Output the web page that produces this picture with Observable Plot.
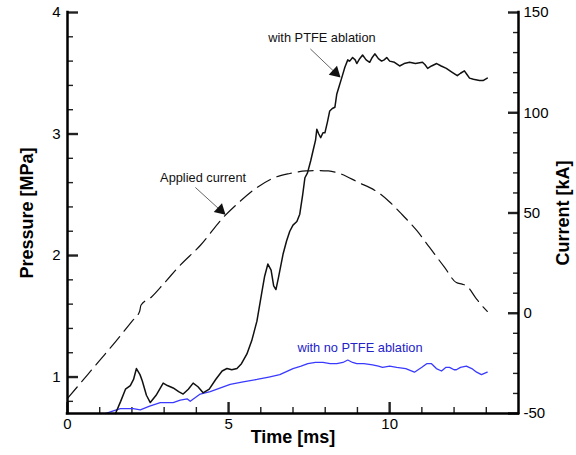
<!DOCTYPE html>
<html><head><meta charset="utf-8">
<script src="https://cdn.jsdelivr.net/npm/d3@7"></script>
<script src="https://cdn.jsdelivr.net/npm/@observablehq/plot@0.6"></script>
<style>body{margin:0;background:#fff}#chart{width:576px;height:455px}</style>
</head><body><div id="chart"></div>
<script>
// Pressure with PTFE ablation (ms, MPa)
const ptfeTime = [1.49,1.65,1.80,1.95,2.05,2.14,2.25,2.32,2.45,2.57,2.75,2.97,3.10,3.28,3.45,3.59,3.75,3.90,4.05,4.21,4.40,4.60,4.80,4.95,5.10,5.26,5.40,5.57,5.72,5.88,6.04,6.12,6.22,6.32,6.40,6.47,6.55,6.69,6.80,6.90,7.00,7.12,7.21,7.30,7.37,7.45,7.55,7.62,7.70,7.74,7.80,7.86,7.93,7.99,8.07,8.14,8.22,8.30,8.36,8.44,8.51,8.61,8.70,8.76,8.85,8.93,8.98,9.07,9.16,9.27,9.38,9.46,9.54,9.65,9.75,9.83,9.91,10.00,10.15,10.31,10.45,10.62,10.80,11.02,11.10,11.18,11.30,11.46,11.60,11.76,11.93,12.10,12.20,12.32,12.40,12.48,12.60,12.79,12.90,13.03];
const ptfePressure = [0.70,0.80,0.90,0.93,0.98,1.07,1.02,0.97,0.85,0.79,0.85,0.95,0.93,0.91,0.88,0.86,0.90,0.95,0.92,0.87,0.90,0.98,1.05,1.07,1.06,1.07,1.11,1.19,1.30,1.46,1.71,1.83,1.93,1.88,1.75,1.72,1.82,2.01,2.12,2.20,2.25,2.28,2.34,2.50,2.64,2.68,2.78,2.86,2.95,3.04,3.00,2.97,3.01,3.01,3.10,3.19,3.21,3.22,3.33,3.40,3.46,3.55,3.61,3.60,3.63,3.61,3.58,3.62,3.65,3.61,3.59,3.63,3.66,3.62,3.60,3.61,3.63,3.60,3.59,3.56,3.58,3.59,3.58,3.59,3.57,3.54,3.56,3.58,3.56,3.54,3.51,3.48,3.50,3.52,3.49,3.46,3.45,3.44,3.44,3.46];
// Pressure with no PTFE ablation (ms, MPa)
const noPtfeTime = [1.18,1.40,1.64,2.04,2.26,2.55,2.88,3.28,3.50,3.72,3.81,4.12,4.43,4.75,5.05,5.45,5.88,6.25,6.59,7.00,7.25,7.46,7.70,7.93,8.15,8.36,8.55,8.70,8.85,8.98,9.20,9.47,9.65,9.78,10.00,10.22,10.50,10.77,11.00,11.15,11.30,11.45,11.61,11.75,11.86,12.00,12.07,12.20,12.38,12.55,12.70,12.85,13.03];
const noPtfePressure = [0.70,0.72,0.74,0.74,0.73,0.76,0.79,0.79,0.81,0.82,0.80,0.86,0.88,0.91,0.94,0.96,0.98,1.00,1.02,1.07,1.09,1.11,1.12,1.12,1.11,1.11,1.12,1.14,1.12,1.11,1.11,1.10,1.09,1.08,1.09,1.08,1.07,1.04,1.08,1.11,1.11,1.07,1.05,1.08,1.08,1.06,1.06,1.08,1.09,1.07,1.04,1.02,1.04];
// Applied current (ms, kA)
const currentTime = [0,0.5,1.0,1.5,2.0,2.24,2.28,2.6,3.0,3.5,4.12,4.83,5.3,5.88,6.4,6.9,7.4,7.74,8.1,8.45,9.0,9.69,10.0,10.4,10.84,11.24,11.7,12.07,12.25,12.38,12.7,13.03];
const currentKA = [-42.5,-33,-23.5,-14,-4,1,4,8,15,24,33.8,47.7,55,62.7,67.5,69.7,71,71.2,71,69.7,65.5,59.7,55.5,49,41.3,32.8,23,15.3,14.5,13.8,7,0.9];

const timeTicks = [0,5,10];
const pressureTicks = [1,2,3,4];
const currentTicks = [-50,0,50,100,150];

const annText = ["with PTFE ablation","Applied current","with no PTFE ablation"];
const annTime = [7.90,4.21,9.08];
const annPressure = [3.79,2.64,1.24];
const annColor = ["#111","#111","#2323c8"];
const arrowFromTime = [7.54,3.97];
const arrowFromP = [3.70,2.56];
const arrowToTime = [8.41,4.84];
const arrowToP = [3.48,2.35];

const xDom=[0,14], pMin=0.7, pMax=4, cMin=-50, cMax=150;
const toP = c => pMin + (c - cMin) / (cMax - cMin) * (pMax - pMin);
const fromP = p => cMin + (p - pMin) / (pMax - pMin) * (cMax - cMin);

const W=576,H=455,mL=67,mR=58,mT=12,mB=42;

const ptfe = ptfeTime.map((t,i)=>({t,p:ptfePressure[i]}));
const noPtfe = noPtfeTime.map((t,i)=>({t,p:noPtfePressure[i]}));
const cur = currentTime.map((t,i)=>({t,p:toP(currentKA[i])}));
const ann = annText.map((s,i)=>({s,t:annTime[i],p:annPressure[i],c:annColor[i]}));
const arrows = arrowFromTime.map((t,i)=>({x1:t,y1:arrowFromP[i],x2:arrowToTime[i],y2:arrowToP[i]}));

const xMinor = d3.range(1,14).filter(v=>v%5!==0);
const pMinor = d3.range(0.8,4,0.2).map(v=>+v.toFixed(1)).filter(v=>Math.abs(v-Math.round(v))>1e-6);
const cMinor = d3.range(-40,150,10).filter(v=>v%50!==0).map(toP);

// inward ticks drawn by axis marks with negative tick size (no labels)
const tickColor = "#222";
const inTicksX = (vals,len,sw) => Plot.axisX({ticks:vals,tickSize:-len,text:null,label:null,stroke:tickColor,strokeWidth:sw});
const inTicksY = (anchor,vals,len,sw) => Plot.axisY({anchor,ticks:vals,tickSize:-len,text:null,label:null,stroke:tickColor,strokeWidth:sw});

const plot = Plot.plot({
  width:W,height:H,marginLeft:mL,marginRight:mR,marginTop:mT,marginBottom:mB,
  style:{fontFamily:"'Liberation Sans', Arial, sans-serif",fontSize:"15px"},
  x:{domain:xDom},
  y:{domain:[pMin,pMax]},
  marks:[
    Plot.axisX({ticks:timeTicks,tickFormat:d=>String(d),tickSize:0,tickPadding:5,fontSize:15,label:null}),
    Plot.axisY({anchor:"left",ticks:pressureTicks,tickFormat:d=>String(d),tickSize:0,tickPadding:7,fontSize:15,label:null}),
    Plot.axisY({anchor:"right",ticks:currentTicks.map(toP),tickFormat:p=>String(Math.round(fromP(p))),tickSize:0,tickPadding:5,fontSize:15,label:null}),
    inTicksX(timeTicks,11,2.4),
    inTicksX(xMinor,6,1.4),
    inTicksY("left",pressureTicks,11,2.4),
    inTicksY("left",pMinor,6,1.4),
    inTicksY("right",currentTicks.map(toP),11,2.4),
    inTicksY("right",cMinor,6,1.4),
    // curves
    Plot.line(cur,{x:"t",y:"p",stroke:"#111",strokeWidth:1.2,strokeDasharray:"15,7",curve:"monotone-x"}),
    Plot.line(noPtfe,{x:"t",y:"p",stroke:"#3a3aff",strokeWidth:1.3}),
    Plot.line(ptfe,{x:"t",y:"p",stroke:"#111",strokeWidth:1.5}),
    // annotations
    Plot.text(ann,{x:"t",y:"p",text:"s",fill:"c",fontSize:12.8,textAnchor:"middle"}),
    Plot.link(arrows,{x1:"x1",y1:"y1",x2:"x2",y2:"y2",stroke:"#666",strokeWidth:1}),
    Plot.dot(arrows,{x:"x2",y:"y2",symbol:"triangle",r:4.5,fill:"#111",stroke:"none",rotate:133,dx:-3,dy:-3}),
    // frame lines
    Plot.ruleX([xDom[0]],{stroke:"black",strokeWidth:2.5,strokeLinecap:"square"}),
    Plot.ruleX([xDom[1]],{stroke:"black",strokeWidth:2.5,strokeLinecap:"square"}),
    Plot.ruleY([pMin],{stroke:"black",strokeWidth:2.5,strokeLinecap:"square"}),
    // axis titles
    Plot.text(["Pressure [MPa]"],{frameAnchor:"left",dx:-40,rotate:-90,fontSize:18,fontWeight:"bold",textAnchor:"middle"}),
    Plot.text(["Current [kA]"],{frameAnchor:"right",dx:45,rotate:-90,fontSize:18,fontWeight:"bold",textAnchor:"middle"}),
    Plot.text(["Time [ms]"],{frameAnchor:"bottom",dy:29,fontSize:18,fontWeight:"bold",textAnchor:"middle"})
  ]
});
document.getElementById("chart").appendChild(plot);
</script>
</body></html>
